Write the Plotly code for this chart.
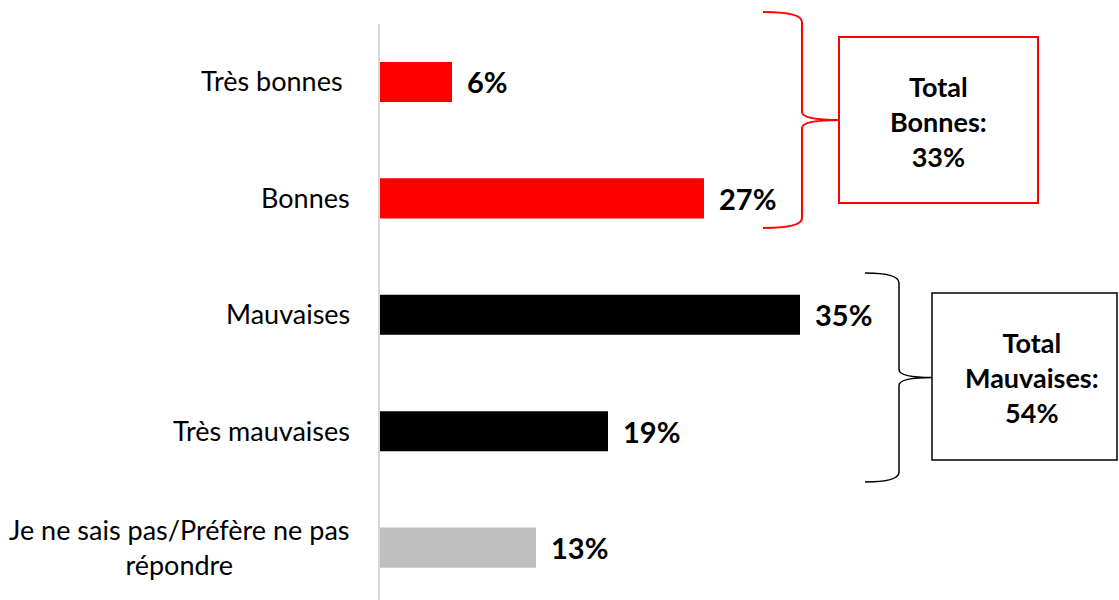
import plotly.graph_objects as go

categories = ["Très bonnes", "Bonnes", "Mauvaises", "Très mauvaises",
              "Je ne sais pas/Préfère ne pas<br>répondre"]
values = [6, 27, 35, 19, 13]
colors = ["#FF0000", "#FF0000", "#000000", "#000000", "#BFBFBF"]
value_labels = ["6%", "27%", "35%", "19%", "13%"]
total_good_text = "Total<br>Bonnes:<br>33%"
total_bad_text = "Total<br>Mauvaises:<br>54%"

W, H = 1119, 600
ML, MR, MT, MB = 380, 0, 24, 0
PW, PH = W - ML - MR, H - MT - MB
PX_PER_PCT = 12.0

def px(x):
    return (x - ML) / PW

def py(y):
    return 1 - (y - MT) / PH

ypos = list(range(len(categories)))

fig = go.Figure()
fig.add_trace(go.Bar(
    x=values, y=ypos, orientation="h",
    marker=dict(color=colors, line=dict(width=0)),
    width=0.344, hoverinfo="skip",
))

FONT = "Lato, 'Open Sans', sans-serif"
annotations = []
for i, (cat, v, lab) in enumerate(zip(categories, values, value_labels)):
    annotations.append(dict(
        x=v, y=i, xref="x", yref="y", text=f"<b>{lab}</b>", showarrow=False,
        xanchor="left", yanchor="middle", xshift=13,
        font=dict(family=FONT, size=29, color="#000000"),
    ))
    annotations.append(dict(
        x=0, y=i, xref="paper", yref="y", text=cat, showarrow=False,
        xanchor="right", yanchor="middle", xshift=-28 - (7 if i == 0 else 0),
        yshift=1,
        align="center",
        font=dict(family=FONT, size=27, color="#000000"),
    ))

annotations.append(dict(
    x=px(938), y=py(121), xref="paper", yref="paper", text=f"<b>{total_good_text}</b>",
    showarrow=False, xanchor="center", yanchor="middle", align="center",
    font=dict(family=FONT, size=27, color="#000000"),
))
annotations.append(dict(
    x=px(1032), y=py(377), xref="paper", yref="paper", text=f"<b>{total_bad_text}</b>",
    showarrow=False, xanchor="center", yanchor="middle", align="center",
    font=dict(family=FONT, size=27, color="#000000"),
))

def brace_path(xe, y0, y1, xv, xt):
    ym = (y0 + y1) / 2
    pts = [
        f"M {px(xe)},{py(y0)}",
        f"Q {px(xv)},{py(y0)} {px(xv)},{py(y0 + 10)}",
        f"L {px(xv)},{py(ym - 8)}",
        f"Q {px(xv)},{py(ym)} {px(xt)},{py(ym)}",
        f"Q {px(xv)},{py(ym)} {px(xv)},{py(ym + 8)}",
        f"L {px(xv)},{py(y1 - 10)}",
        f"Q {px(xv)},{py(y1)} {px(xe)},{py(y1)}",
    ]
    return " ".join(pts)

shapes = [
    dict(type="path", xref="paper", yref="paper",
         path=brace_path(763, 12, 228, 802, 840),
         line=dict(color="#FF0000", width=2)),
    dict(type="rect", xref="paper", yref="paper",
         x0=px(839), x1=px(1038), y0=py(37), y1=py(203),
         line=dict(color="#FF0000", width=2)),
    dict(type="path", xref="paper", yref="paper",
         path=brace_path(865, 273, 482, 899, 932),
         line=dict(color="#000000", width=1.5)),
    dict(type="rect", xref="paper", yref="paper",
         x0=px(932), x1=px(1117), y0=py(293), y1=py(460),
         line=dict(color="#000000", width=1.5)),
]

fig.update_layout(
    width=W, height=H,
    margin=dict(l=ML, r=MR, t=MT, b=MB),
    paper_bgcolor="white", plot_bgcolor="white",
    showlegend=False,
    xaxis=dict(range=[0, PW / PX_PER_PCT], visible=False, fixedrange=True),
    yaxis=dict(range=[4.45, -0.498], showticklabels=False, showgrid=False,
               zeroline=False, showline=True, linecolor="#D9D9D9", linewidth=2,
               ticks="", fixedrange=True),
    annotations=annotations,
    shapes=shapes,
)

fig.write_html("out.html", config={"displayModeBar": False})
